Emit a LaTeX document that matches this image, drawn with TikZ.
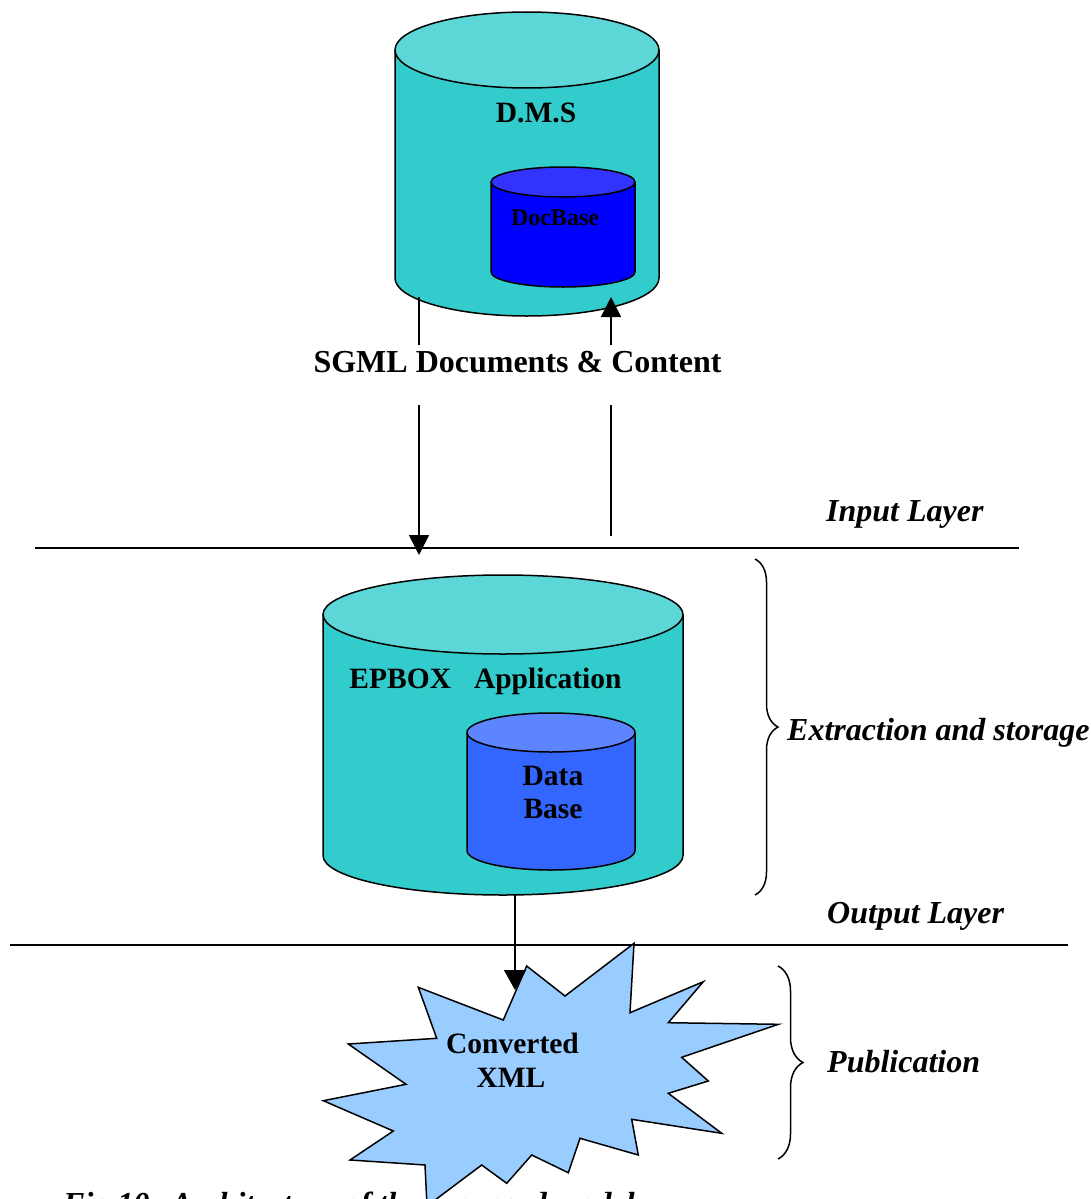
\documentclass[tikz,border=0pt]{standalone}
\usepackage{fontspec}
\setmainfont{Liberation Serif}
\usetikzlibrary{arrows.meta,decorations.pathreplacing,fit}

\definecolor{tealbody}{RGB}{51,204,204}
\definecolor{teallid}{RGB}{92,214,214}
\definecolor{bluebody}{RGB}{0,0,255}
\definecolor{bluelid}{RGB}{51,51,255}
\definecolor{dbbody}{RGB}{51,102,255}
\definecolor{dblid}{RGB}{92,133,255}
\definecolor{burst}{RGB}{153,204,255}

\tikzset{
  outline/.style={draw=black,line width=1.5pt},
  plainline/.style={line width=1.5pt},
  flow/.style={line width=1.5pt,-{Triangle[length=20pt,width=20pt]}},
  layerline/.style={line width=1.8pt},
  lbl/.style={font=\bfseries\fontsize{29.5}{33}\selectfont,anchor=base,inner sep=0pt},
  smalllbl/.style={lbl,font=\bfseries\fontsize{24}{28}\selectfont},
  biglbl/.style={lbl,font=\bfseries\fontsize{32}{36}\selectfont},
  side/.style={font=\bfseries\itshape\fontsize{32}{36}\selectfont,anchor=base west,inner sep=0pt},
  sidebrace/.style={line width=1.5pt,decorate,decoration={brace,amplitude=#1}},
}

% database cylinder: name, centre x, lid centre y, base centre y, x radius, y radius, body colour, lid colour
\newcommand\dbcyl[8]{%
  \fill[#7] (#2-#5,-#3) -- (#2-#5,-#4)
    arc[start angle=180,end angle=360,x radius=#5pt,y radius=#6pt] -- (#2+#5,-#3) -- cycle;
  \draw[outline] (#2-#5,-#3) -- (#2-#5,-#4)
    arc[start angle=180,end angle=360,x radius=#5pt,y radius=#6pt] -- (#2+#5,-#3);
  \filldraw[outline,fill=#8] (#2,-#3) ellipse[x radius=#5pt,y radius=#6pt];
  \node[inner sep=0pt,fit={(#2-#5,-#3+#6) (#2+#5,-#4-#6)}] (#1) {};
}

\begin{document}
\begin{tikzpicture}[x=1pt,y=1pt]
\useasboundingbox (0,0) rectangle (1091,-1199);
\clip (0,0) rectangle (1091,-1199);
\fill[white] (0,0) rectangle (1091,-1199);

% figure caption, partly hidden behind the burst
\node[side] (caption) at (63,-1214) {Fig.10: Architecture of the proposed model};

% layer separators
\draw[layerline] (35,-548) coordinate (sepAL) -- (1019,-548) coordinate (sepAR);
\draw[layerline] (10,-945) coordinate (sepBL) -- (1068,-945) coordinate (sepBR);

% storage cylinders
\dbcyl{dms}{527}{50}{278}{132}{38}{tealbody}{teallid}
\dbcyl{docbase}{563}{182}{272}{72}{15}{bluebody}{bluelid}
\dbcyl{epbox}{503}{614.5}{855.5}{180}{39.5}{tealbody}{teallid}
\dbcyl{database}{551}{732.5}{850.5}{84}{19.5}{dbbody}{dblid}

\node[lbl] (dmsT) at (536,-122) {D.M.S};
\node[smalllbl] (docT) at (555,-225) {DocBase};
\node[lbl] (epT) at (485.5,-688) {EPBOX\hspace{23pt}Application};
\node[lbl] (dataT) at (553,-785) {Data};
\node[lbl] (baseT) at (553,-818) {Base};

% exchange between D.M.S and the application
\node[biglbl] (sgml) at (517.5,-372) {SGML Documents \& Content};
\coordinate (dmsOut) at (419,-297);
\coordinate (sgmlLA) at (419,-345);
\coordinate (sgmlLB) at (419,-405);
\coordinate (epIn) at (419,-555);
\coordinate (dmsIn) at (611,-297);
\coordinate (sgmlRA) at (611,-345);
\coordinate (sgmlRB) at (611,-405);
\coordinate (epBack) at (611,-536);
\draw[plainline] (dmsOut) -- (sgmlLA);
\draw[flow] (sgmlLB) -- (epIn);
\draw[plainline] (epBack) -- (sgmlRB);
\draw[flow] (sgmlRA) -- (dmsIn);

% published output
\filldraw[outline,fill=burst,line join=miter]
  (526.7,-966) -- (565,-996) -- (634,-943.3) -- (630,-1012.7) -- (703.3,-981.7)
  -- (668.3,-1022.7) -- (778.3,-1024.3) -- (681.7,-1057.3) -- (708.3,-1081)
  -- (668.3,-1093.3) -- (721.7,-1133.3) -- (631.7,-1119.3) -- (638.3,-1155)
  -- (580,-1138.3) -- (568.3,-1172.7) -- (531.7,-1155) -- (506.7,-1183.3)
  -- (481.7,-1165) -- (427,-1206) -- (425,-1165) -- (350,-1160) -- (393.3,-1131)
  -- (323.3,-1100.7) -- (406,-1084.3) -- (348.3,-1044) -- (436.7,-1038.3)
  -- (418.3,-987.3) -- (503.3,-1020) -- cycle;
\node[lbl] (convT) at (512.5,-1053) {Converted};
\node[lbl] (xmlT) at (511,-1087) {XML};
\coordinate (epOut) at (515,-895);
\coordinate (burstTop) at (515,-990);
\draw[line width=1.5pt,-{Triangle[length=20pt,width=22pt]}] (epOut) -- (burstTop);

% layer annotations
\draw[sidebrace=23pt] (755,-559) coordinate (braceAT) -- (755,-895) coordinate (braceAB);
\draw[sidebrace=25pt] (778,-966) coordinate (braceBT) -- (778,-1159) coordinate (braceBB);
\node[side] (inputT) at (826,-521) {Input Layer};
\node[side] (extrT) at (787,-740) {Extraction and storage};
\node[side] (outputT) at (827,-923) {Output Layer};
\node[side] (pubT) at (827,-1072) {Publication};
\end{tikzpicture}
\end{document}
